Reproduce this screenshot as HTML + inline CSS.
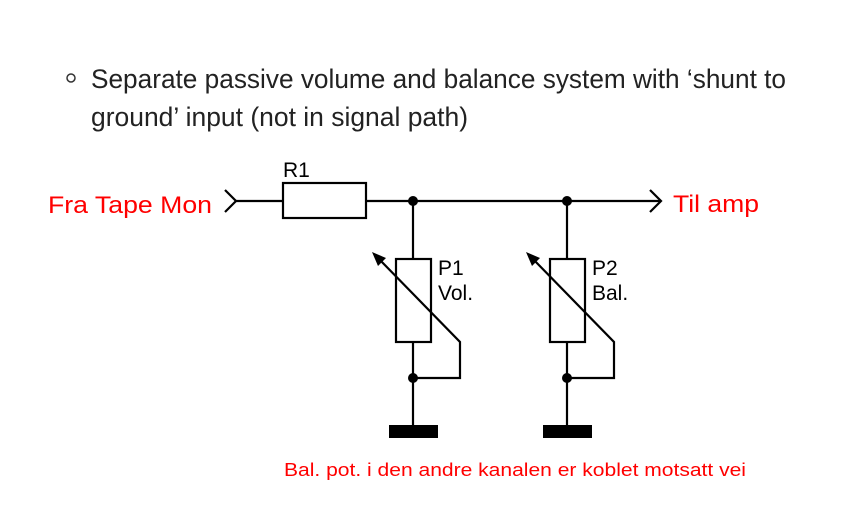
<!DOCTYPE html>
<html><head><meta charset="utf-8"><style>html,body{margin:0;padding:0;background:#fff}svg{display:block}</style></head>
<body>
<svg width="855" height="531" viewBox="0 0 855 531" xmlns="http://www.w3.org/2000/svg">
<rect width="855" height="531" fill="#fff"/>
<circle cx="71" cy="78" r="4" fill="none" stroke="#333" stroke-width="1.5"/>
<g font-family="Liberation Sans, sans-serif" font-size="27" fill="#222">
<text x="91" y="88" textLength="695" lengthAdjust="spacingAndGlyphs">Separate passive volume and balance system with ‘shunt to</text>
<text x="91" y="126" textLength="377" lengthAdjust="spacingAndGlyphs">ground’ input (not in signal path)</text>
</g>
<g font-family="Liberation Sans, sans-serif" fill="#f00">
<text x="48" y="213" font-size="24" textLength="164" lengthAdjust="spacingAndGlyphs">Fra Tape Mon</text>
<text x="673" y="212" font-size="24" textLength="86" lengthAdjust="spacingAndGlyphs">Til amp</text>
<text x="284" y="476" font-size="18" textLength="462" lengthAdjust="spacingAndGlyphs">Bal. pot. i den andre kanalen er koblet motsatt vei</text>
</g>
<g font-family="Liberation Sans, sans-serif" font-size="21" fill="#000">
<text x="283" y="177">R1</text>
<text x="438" y="275">P1</text>
<text x="438" y="300">Vol.</text>
<text x="592" y="275">P2</text>
<text x="592" y="300">Bal.</text>
</g>
<g stroke="#000" stroke-width="2.2" fill="none">
<polyline points="225,190 236,201 225,212"/>
<line x1="236" y1="201" x2="283" y2="201"/>
<rect x="283" y="183" width="83" height="35"/>
<line x1="366" y1="201" x2="660" y2="201"/>
<polyline points="650,190 661,201 650,212"/>
<g>
<line x1="413" y1="201" x2="413" y2="259"/>
<rect x="396" y="259" width="35" height="83"/>
<line x1="413" y1="342" x2="413" y2="425"/>
<polyline points="378,258 460,342 460,378 413,378"/>
</g>
<g transform="translate(154,0)">
<line x1="413" y1="201" x2="413" y2="259"/>
<rect x="396" y="259" width="35" height="83"/>
<line x1="413" y1="342" x2="413" y2="425"/>
<polyline points="378,258 460,342 460,378 413,378"/>
</g>
</g>
<g fill="#000">
<circle cx="413" cy="201" r="5"/><circle cx="567" cy="201" r="5"/>
<circle cx="413" cy="378" r="5"/><circle cx="567" cy="378" r="5"/>
<rect x="389" y="425" width="49" height="13"/><rect x="543" y="425" width="49" height="13"/>
<polygon points="372,252 386,258 378,266"/>
<polygon points="526,252 540,258 532,266"/>
</g>
</svg>
</body></html>
